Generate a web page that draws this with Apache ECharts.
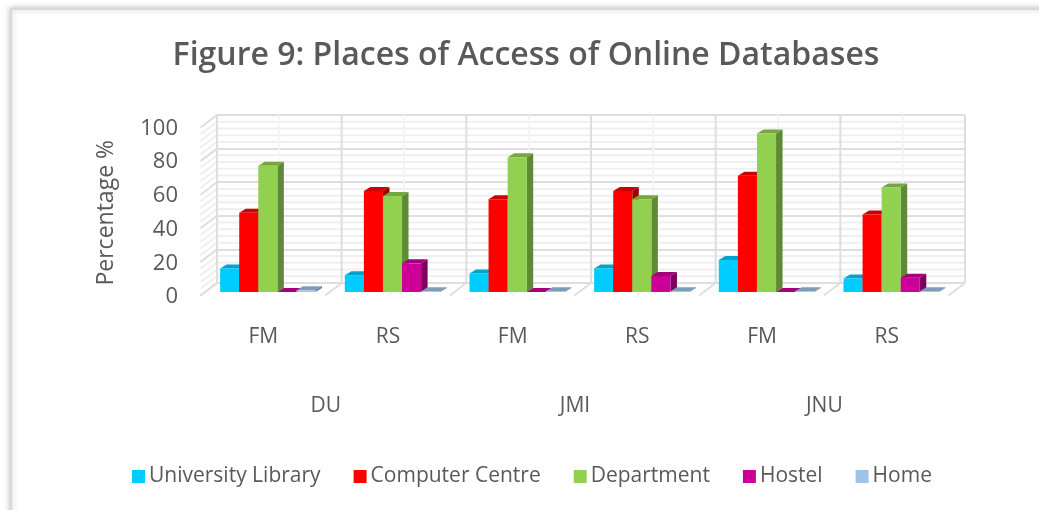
<!DOCTYPE html>
<html>
<head>
<meta charset="utf-8">
<style>html,body{margin:0;padding:0;background:#fff}#c{width:1039px;height:510px}</style>
<script src="https://cdn.jsdelivr.net/npm/echarts@6/dist/echarts.min.js"></script>
</head>
<body>
<div id="c"></div>
<script>
const titleText = 'Figure 9: Places of Access of Online Databases';
const yAxisName = 'Percentage %';
const subCategories = ['FM', 'RS', 'FM', 'RS', 'FM', 'RS'];
const universities = ['DU', 'JMI', 'JNU'];
const universityLibrary = [14, 10, 11, 14, 19, 8];
const computerCentre = [47, 60, 55, 60, 69, 46];
const department = [75, 57, 80, 55, 94, 62];
const hostel = [0, 17, 0, 9.5, 0, 8.5];
const home = [1, 0.5, 0.5, 0.5, 0.5, 0.5];
const seriesNames = ['University Library', 'Computer Centre', 'Department', 'Hostel', 'Home'];
const seriesValues = [universityLibrary, computerCentre, department, hostel, home];
const faceColors = ['#00CCFF', '#FF0000', '#92D050', '#CC0099', '#9DC3E6'];
const topColors = ['#00A3CC', '#CC0000', '#75A640', '#A3007A', '#7E9CB8'];
const sideColors = ['#007A99', '#990000', '#5F8A35', '#7A005C', '#5E7589'];
const minorTicks = [4, 8, 12, 16, 24, 28, 32, 36, 44, 48, 52, 56, 64, 68, 72, 76, 84, 88, 92, 96];
const majorTicks = [0, 20, 40, 60, 80, 100];
const wallSlots = [0, 1, 2, 3, 4, 5, 6];

const chart = echarts.init(document.getElementById('c'), null, {renderer: 'canvas'});
const textColor = '#595959';
const DEPTH_X = 16.5, DEPTH_Y = 12.5;
const BAR_DX = 6.5, BAR_DY = 4;

function barRenderer(idx) {
  return function (params, api) {
    const cat = api.value(0), val = api.value(1);
    const base = api.coord([cat, 0]);
    const top = api.coord([cat, val]);
    const w = api.size([1, 0])[0] * 0.153;
    const x = base[0] + (idx - 2.5) * w;
    const y0 = base[1], y1 = top[1];
    return {
      type: 'group',
      children: [
        {type: 'polygon', shape: {points: [[x + w, y0], [x + w + BAR_DX, y0 - BAR_DY], [x + w + BAR_DX, y1 - BAR_DY], [x + w, y1]]}, style: {fill: sideColors[idx]}},
        {type: 'polygon', shape: {points: [[x, y1], [x + BAR_DX, y1 - BAR_DY], [x + w + BAR_DX, y1 - BAR_DY], [x + w, y1]]}, style: {fill: topColors[idx]}},
        {type: 'rect', shape: {x: x, y: y1, width: w, height: y0 - y1}, style: {fill: faceColors[idx]}}
      ]
    };
  };
}

function sideLines(params, api) {
  const p = api.coord([0, api.value(0)]);
  return {
    type: 'line',
    shape: {x1: p[0], y1: p[1], x2: p[0] - DEPTH_X, y2: p[1] + DEPTH_Y},
    style: {stroke: '#DEDEDE', lineWidth: 2}
  };
}

const option = {
  animation: false,
  backgroundColor: '#ffffff',
  textStyle: {fontFamily: 'Open Sans'},
  title: {
    text: titleText,
    left: 521, top: 35, textAlign: 'center',
    textStyle: {fontFamily: 'Open Sans', fontSize: 32, fontWeight: 600, color: textColor}
  },
  legend: {
    data: seriesNames,
    left: 127, top: 461,
    icon: 'rect',
    itemWidth: 13, itemHeight: 13, itemGap: 33,
    textStyle: {fontFamily: 'Open Sans', fontSize: 21, color: textColor, padding: [0, 0, 0, -1]}
  },
  grid: [
    {left: 205.5, width: 748, top: 123.5, height: 168.5},
    {left: 217, width: 748, top: 115, height: 168},
    {left: 201, width: 748, top: 128.5, height: 168.5}
  ],
  xAxis: [
    {gridIndex: 0, type: 'category', data: subCategories, show: false},
    {gridIndex: 1, type: 'value', min: 0, max: 6, interval: 1, position: 'bottom',
      axisLine: {show: false}, axisTick: {show: false}, axisLabel: {show: false},
      splitLine: {show: false}},
    {gridIndex: 2, type: 'category', data: subCategories, position: 'bottom',
      axisLine: {show: false}, axisTick: {show: false},
      axisLabel: {margin: 30, fontSize: 21, color: textColor, fontFamily: 'Open Sans'}},
    {gridIndex: 2, type: 'category', data: universities, position: 'bottom', offset: 69,
      axisLine: {show: false}, axisTick: {show: false},
      axisLabel: {margin: 30, fontSize: 21, color: textColor, fontFamily: 'Open Sans'}}
  ],
  yAxis: [
    {gridIndex: 0, type: 'value', min: 0, max: 100, show: false},
    {gridIndex: 1, type: 'value', min: 0, max: 100, interval: 20, show: true,
      axisLine: {show: false}, axisTick: {show: false}, axisLabel: {show: false},
      splitLine: {show: true, lineStyle: {color: '#DEDEDE', width: 2}},
      minorSplitLine: {show: false}},
    {gridIndex: 2, type: 'value', min: 0, max: 100, interval: 20,
      name: yAxisName, nameLocation: 'middle', nameGap: 83,
      nameTextStyle: {fontSize: 23, color: textColor, fontFamily: 'Open Sans'},
      axisLine: {show: false}, axisTick: {show: false}, splitLine: {show: false},
      axisLabel: {margin: 23, fontSize: 22, color: textColor, fontFamily: 'Open Sans'}}
  ],
  series: [
    {type: 'custom', silent: true, xAxisIndex: 1, yAxisIndex: 1, z: 1,
      data: minorTicks.map(v => [v]), encode: {x: null, y: 0}, clip: false,
      renderItem: function (params, api) {
        const v = api.value(0);
        const a = api.coord([0, v]), b = api.coord([6, v]);
        return {type: 'group', children: [
          {type: 'line', shape: {x1: a[0], y1: a[1], x2: b[0], y2: b[1]}, style: {stroke: '#EFEFEF', lineWidth: 2}},
          {type: 'line', shape: {x1: a[0], y1: a[1], x2: a[0] - DEPTH_X, y2: a[1] + DEPTH_Y}, style: {stroke: '#EFEFEF', lineWidth: 2}}
        ]};
      }},
    {type: 'custom', silent: true, xAxisIndex: 1, yAxisIndex: 1, z: 2,
      data: majorTicks.map(v => [v]), encode: {x: null, y: 0}, clip: false,
      renderItem: sideLines},
    {type: 'custom', silent: true, xAxisIndex: 1, yAxisIndex: 1, z: 2, clip: false,
      data: wallSlots.map(s => [s]), encode: {x: 0, y: null},
      renderItem: function (params, api) {
        const s = api.value(0);
        const a = api.coord([s, 0]), t = api.coord([s, 100]);
        return {type: 'group', children: [
          {type: 'line', shape: {x1: a[0], y1: a[1], x2: t[0], y2: t[1]}, style: {stroke: '#DEDEDE', lineWidth: 2}},
          {type: 'line', shape: {x1: a[0], y1: a[1], x2: a[0] - DEPTH_X, y2: a[1] + DEPTH_Y}, style: {stroke: '#DEDEDE', lineWidth: 2}}
        ]};
      }},
    {type: 'custom', silent: true, xAxisIndex: 1, yAxisIndex: 1, z: 2, clip: false,
      data: wallSlots.slice(0, 6).map(s => [s]), encode: {x: 0, y: null},
      renderItem: function (params, api) {
        const s = api.value(0);
        const a = api.coord([s + 0.5, 0]), t = api.coord([s + 0.5, 100]);
        return {type: 'group', children: [
          {type: 'line', shape: {x1: a[0], y1: a[1], x2: t[0], y2: t[1]}, style: {stroke: '#F4F4F4', lineWidth: 2}},
          {type: 'line', shape: {x1: a[0], y1: a[1], x2: a[0] - DEPTH_X, y2: a[1] + DEPTH_Y}, style: {stroke: '#F4F4F4', lineWidth: 2}}
        ]};
      }}
  ].concat(seriesNames.map((name, i) => ({
    name: name, type: 'custom', xAxisIndex: 0, yAxisIndex: 0, z: 5, clip: false,
    itemStyle: {color: faceColors[i]},
    data: seriesValues[i].map((v, c) => [c, v]),
    encode: {x: 0, y: 1},
    renderItem: barRenderer(i)
  }))),
  graphic: [
    {type: 'rect', silent: true, z: -1, shape: {x: 11, y: 9, width: 1040, height: 520},
      style: {fill: '#fff', stroke: '#D9D9D9', lineWidth: 2, shadowBlur: 6, shadowColor: 'rgba(0,0,0,0.25)'}}
  ]
};
chart.setOption(option);
</script>
</body>
</html>
